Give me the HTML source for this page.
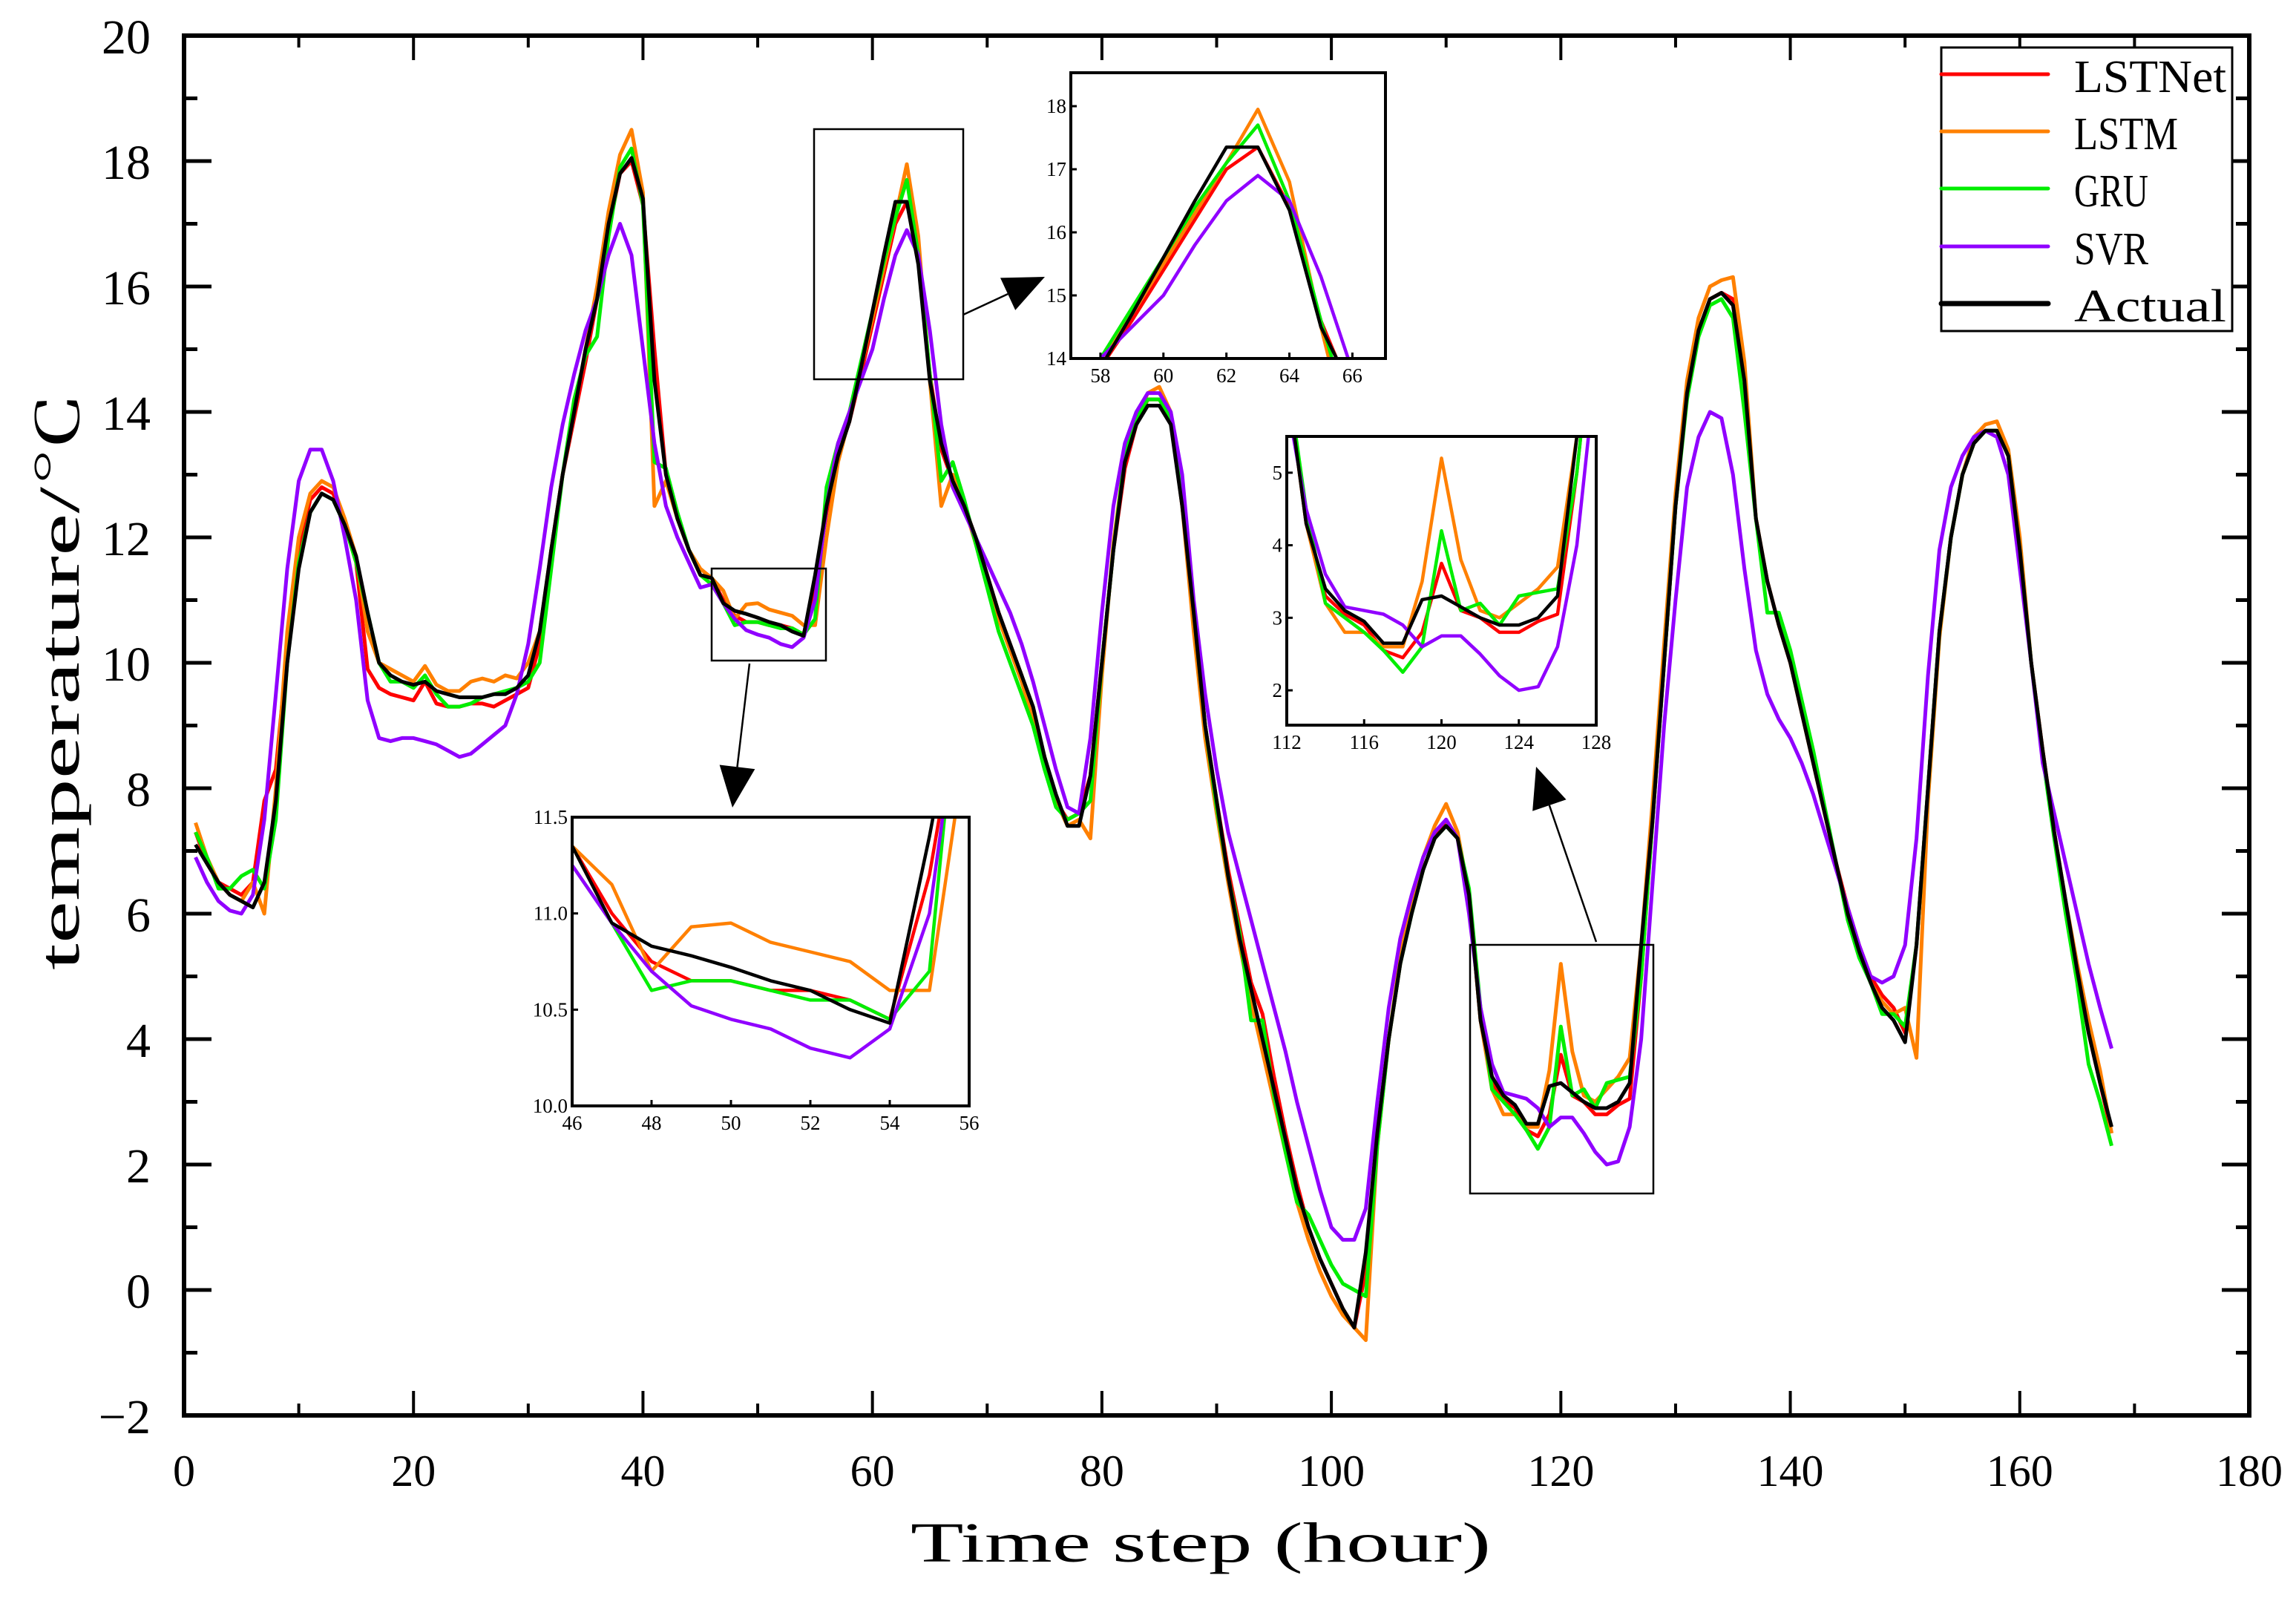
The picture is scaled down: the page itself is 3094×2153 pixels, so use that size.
<!DOCTYPE html>
<html><head><meta charset="utf-8"><style>
html,body{margin:0;padding:0;background:#fff;overflow:hidden;width:3094px;height:2153px;position:relative;}
svg{display:block;position:absolute;left:0;top:0;}
text{font-family:"Liberation Serif","Noto Serif CJK SC",serif;fill:#000;}
</style></head><body>
<svg id="chart" width="3094" height="2153" viewBox="0 0 3094 2153" xmlns="http://www.w3.org/2000/svg"></svg>
<script>
const hours = [];
for (let i = 1; i <= 168; i++) hours.push(i);
const seriesNames = ["LSTNet","LSTM","GRU","SVR","Actual"];
const seriesColors = ["#ff0000","#ff8000","#00ee00","#9000ff","#000000"];
const xTicks = [0,20,40,60,80,100,120,140,160,180];
const yTicks = [-2,0,2,4,6,8,10,12,14,16,18,20];
const lstnet = [7.3,6.8,6.5,6.4,6.3,6.5,7.8,8.3,10.2,11.8,12.6,12.8,12.7,12.2,11.6,9.9,9.6,9.5,9.45,9.4,9.7,9.35,9.3,9.3,9.35,9.35,9.3,9.4,9.5,9.6,10.3,11.8,13.0,13.9,14.8,15.8,16.9,17.8,18.0,17.3,15.0,13.0,12.3,11.8,11.4,11.35,11.0,10.75,10.65,10.65,10.6,10.6,10.55,10.45,11.2,12.4,13.3,13.85,14.6,15.4,16.2,17.0,17.35,16.4,14.6,13.4,12.9,12.5,12.0,11.4,10.8,10.3,9.8,9.2,8.5,7.8,7.5,7.6,8.2,10.0,11.8,13.1,13.8,14.2,14.2,13.9,12.5,10.8,9.0,7.8,6.7,5.8,4.9,4.4,3.4,2.5,1.7,1.0,0.5,0.1,-0.3,-0.6,0.3,2.5,4.0,5.2,6.1,6.7,7.2,7.5,7.2,6.3,4.3,3.3,3.05,2.9,2.55,2.45,2.8,3.75,3.1,3.0,2.8,2.8,2.95,3.05,5.0,7.5,10.0,12.5,14.3,15.3,15.8,15.9,15.8,14.5,12.3,11.3,10.6,10.0,9.2,8.4,7.6,6.8,6.1,5.5,5.0,4.7,4.5,4.1,5.5,8.0,10.5,12.0,13.0,13.5,13.7,13.7,13.3,11.8,10.0,8.6,7.3,6.2,5.1,4.1,3.3,2.5];
const lstm = [7.45,6.9,6.5,6.3,6.2,6.5,6.0,8.0,10.5,12.0,12.7,12.9,12.8,12.3,11.7,10.5,10.0,9.9,9.8,9.7,9.95,9.65,9.55,9.55,9.7,9.75,9.7,9.8,9.75,10.0,10.5,11.8,13.0,14.0,15.0,16.0,17.2,18.1,18.5,17.5,12.5,12.9,12.3,11.8,11.5,11.35,11.15,10.7,10.93,10.95,10.85,10.8,10.75,10.6,10.6,12.0,13.2,13.9,14.7,15.5,16.3,17.1,17.95,16.8,14.5,12.5,13.0,12.5,11.9,11.3,10.7,10.2,9.7,9.1,8.4,7.8,7.4,7.5,7.2,9.8,11.9,13.3,13.9,14.3,14.4,14.0,12.5,10.5,8.8,7.6,6.5,5.5,4.6,3.8,3.0,2.2,1.4,0.8,0.3,-0.1,-0.4,-0.6,-0.8,2.3,4.0,5.3,6.2,6.9,7.4,7.75,7.3,6.3,4.3,3.2,2.8,2.8,2.6,2.6,3.5,5.2,3.8,3.1,3.0,3.2,3.4,3.7,5.5,7.8,10.3,12.7,14.5,15.5,16.0,16.1,16.15,14.8,12.3,11.3,10.6,10.0,9.2,8.4,7.6,6.8,6.0,5.4,4.9,4.6,4.4,4.5,3.7,7.8,10.4,12.0,13.0,13.6,13.8,13.85,13.4,12.0,10.0,8.6,7.3,6.2,5.2,4.3,3.5,2.5];
const gru = [7.3,6.9,6.4,6.4,6.6,6.7,6.4,7.5,10.0,11.6,12.4,12.7,12.6,12.2,11.6,10.8,10.0,9.7,9.7,9.6,9.8,9.5,9.3,9.3,9.35,9.45,9.5,9.55,9.6,9.7,10.0,11.5,13.0,14.2,14.9,15.2,16.8,17.9,18.2,17.3,13.2,13.1,12.4,11.8,11.4,11.25,10.95,10.6,10.65,10.65,10.6,10.55,10.55,10.45,10.7,12.8,13.5,14.0,14.8,15.6,16.4,17.1,17.7,16.5,14.6,12.9,13.2,12.6,11.9,11.2,10.5,10.0,9.5,9.0,8.3,7.7,7.5,7.6,7.8,10.0,11.8,13.3,13.9,14.2,14.2,13.9,12.6,10.8,9.0,7.7,6.6,5.7,4.3,4.3,3.1,2.2,1.4,1.2,0.8,0.4,0.1,0.0,-0.1,2.3,4.0,5.2,6.0,6.7,7.2,7.4,7.2,6.4,4.5,3.2,3.0,2.8,2.55,2.25,2.6,4.2,3.1,3.2,2.9,3.3,3.35,3.4,5.0,7.5,10.0,12.5,14.2,15.2,15.7,15.8,15.5,14.0,12.3,10.8,10.8,10.2,9.4,8.6,7.7,6.8,5.9,5.3,4.9,4.4,4.4,4.2,5.5,8.0,10.5,12.0,13.0,13.5,13.7,13.7,13.3,11.8,10.0,8.5,7.2,6.0,4.9,3.6,3.0,2.3];
const svr = [6.9,6.5,6.2,6.05,6.0,6.3,7.5,9.5,11.5,12.9,13.4,13.4,12.9,12.0,11.0,9.4,8.8,8.75,8.8,8.8,8.75,8.7,8.6,8.5,8.55,8.7,8.85,9.0,9.5,10.3,11.5,12.8,13.8,14.6,15.3,15.8,16.5,17.0,16.5,15.0,13.5,12.5,12.0,11.6,11.2,11.25,10.95,10.7,10.52,10.45,10.4,10.3,10.25,10.4,11.0,12.5,13.5,14.0,14.5,15.0,15.8,16.5,16.9,16.5,15.3,13.8,12.8,12.4,12.0,11.6,11.2,10.8,10.3,9.7,9.0,8.3,7.7,7.6,8.8,10.8,12.5,13.5,14.0,14.3,14.3,14.0,13.0,11.0,9.5,8.3,7.3,6.6,5.9,5.2,4.5,3.8,3.0,2.3,1.6,1.0,0.8,0.8,1.3,3.0,4.5,5.6,6.3,6.9,7.3,7.5,7.2,6.0,4.5,3.6,3.15,3.1,3.05,2.9,2.6,2.75,2.75,2.5,2.2,2.0,2.05,2.6,4.0,6.5,9.0,11.0,12.8,13.6,14.0,13.9,13.0,11.5,10.2,9.5,9.1,8.8,8.4,7.9,7.3,6.7,6.1,5.5,5.0,4.9,5.0,5.5,7.2,9.8,11.8,12.8,13.3,13.6,13.7,13.6,13.0,11.5,10.0,8.4,7.6,6.8,6.0,5.2,4.5,3.85];
const actual = [7.1,6.8,6.5,6.3,6.2,6.1,6.5,7.8,10.0,11.5,12.4,12.7,12.6,12.2,11.7,10.8,10.0,9.8,9.7,9.65,9.7,9.55,9.5,9.45,9.45,9.45,9.5,9.5,9.6,9.8,10.5,11.8,13.0,14.0,15.0,15.8,17.0,17.8,18.05,17.4,14.5,13.0,12.3,11.8,11.4,11.35,10.95,10.83,10.78,10.72,10.65,10.6,10.5,10.43,11.4,12.5,13.3,13.85,14.7,15.6,16.5,17.35,17.35,16.35,14.5,13.5,12.9,12.5,12.0,11.4,10.8,10.3,9.8,9.3,8.5,7.9,7.4,7.4,8.2,10.0,11.8,13.2,13.8,14.1,14.1,13.8,12.5,10.8,9.0,7.8,6.6,5.6,4.8,4.0,3.2,2.4,1.6,1.0,0.5,0.1,-0.3,-0.6,0.6,2.5,4.0,5.2,6.0,6.7,7.2,7.4,7.2,6.3,4.3,3.4,3.1,2.95,2.65,2.65,3.25,3.3,3.15,3.0,2.9,2.9,3.0,3.3,5.5,7.5,10.0,12.5,14.3,15.3,15.8,15.9,15.7,14.5,12.3,11.3,10.6,10.0,9.2,8.4,7.6,6.8,6.0,5.4,4.9,4.5,4.3,3.95,5.5,8.0,10.5,12.0,13.0,13.5,13.7,13.7,13.3,11.8,10.0,8.6,7.3,6.2,5.1,4.1,3.3,2.6];
const allSeries = [lstnet, lstm, gru, svr, actual];

const NS = "http://www.w3.org/2000/svg";
const svg = document.getElementById('chart');
function mk(tag, attrs, parent){
  const e = document.createElementNS(NS, tag);
  for (const k in attrs) e.setAttribute(k, attrs[k]);
  (parent||svg).appendChild(e);
  return e;
}
const L=248,R=3031,T=48,B=1907;
const X0=0,X1=180,Y0=-2,Y1=20;
const xs = v => L + (v-X0)/(X1-X0)*(R-L);
const ys = v => B - (v-Y0)/(Y1-Y0)*(B-T);

const main = mk('g',{});


mk('defs',{}).innerHTML = '<clipPath id="mainclip"><rect x="'+L+'" y="'+T+'" width="'+(R-L)+'" height="'+(B-T)+'"/></clipPath>';
function drawSeries(parent, sx, sy, width, clipId, prefix){
  allSeries.forEach((arr, si) => {
    const pts = arr.map((v,i)=> sx(hours[i]).toFixed(1)+','+sy(v).toFixed(1)).join(' ');
    const pl = mk('polyline',{points:pts,fill:'none',stroke:seriesColors[si],'stroke-width':width,'stroke-linejoin':'round','clip-path':'url(#'+clipId+')'}, parent);
    
    
  });
}
drawSeries(main, xs, ys, 5, 'mainclip', 'series-');

const frame = mk('rect',{x:L,y:T,width:R-L,height:B-T,fill:'none',stroke:'#000','stroke-width':6});


for (let v=0; v<=180; v+=10){
  const major = v%20===0;
  const len = major?33:16;
  mk('line',{x1:xs(v),x2:xs(v),y1:B,y2:B-len,stroke:'#000','stroke-width':4});
  mk('line',{x1:xs(v),x2:xs(v),y1:T,y2:T+len,stroke:'#000','stroke-width':4});
}
xTicks.forEach(v=>{
  const t = mk('text',{x:xs(v),y:2002,'font-size':60,'text-anchor':'middle'});
  t.textContent = v;
  
  
});
for (let v=-2; v<=20; v+=1){
  const major = v%2===0;
  const len = major?37:18;
  mk('line',{x1:L,x2:L+len,y1:ys(v),y2:ys(v),stroke:'#000','stroke-width':5});
  mk('line',{x1:R,x2:R-len,y1:ys(v),y2:ys(v),stroke:'#000','stroke-width':5});
}
yTicks.forEach(v=>{
  const t = mk('text',{x:203,y:ys(v)+24,'font-size':66,'text-anchor':'end'});
  t.textContent = v<0 ? '\u2212'+(-v) : v;
  
  
});
const xt = mk('text',{x:1227,y:2104,'font-size':76,textLength:782,lengthAdjust:'spacingAndGlyphs'});
xt.textContent = 'Time step (hour)';


const yt = mk('text',{x:0,y:0,'font-size':78,textLength:780,lengthAdjust:'spacingAndGlyphs',transform:'translate(106,1307) rotate(-90)'});
yt.textContent = 'temperature/\u2103';



[[1097,174,1298,511,'zoom-box-peak'],[959,766,1113,890,'zoom-box-trough'],[1981,1273,2228,1608,'zoom-box-low']].forEach(r=>{
  const e = mk('rect',{x:r[0],y:r[1],width:r[2]-r[0],height:r[3]-r[1],fill:'none',stroke:'#000','stroke-width':2.5});
  
  
});
function arrow(x1,y1,x2,y2,name){
  const g = mk('g',{});
  
  
  const dx=x2-x1, dy=y2-y1, d=Math.hypot(dx,dy), ux=dx/d, uy=dy/d;
  const hl=55, hw=24;
  const bx=x2-ux*hl, by=y2-uy*hl;
  mk('line',{x1:x1,y1:y1,x2:bx,y2:by,stroke:'#000','stroke-width':2.5},g);
  mk('polygon',{points:`${x2},${y2} ${bx-uy*hw},${by+ux*hw} ${bx+uy*hw},${by-ux*hw}`,fill:'#000'},g);
}
arrow(1298,424,1408,373,'arrow-peak');
arrow(1010,894,987,1088,'arrow-trough');
arrow(2151,1269,2070,1033,'arrow-low');

function inset(box, dom, xt, yt, yfmt, id, name){
  const [x0,y0,x1,y1] = box;
  const [dx0,dx1,dy0,dy1] = dom;
  const sx = v => x0 + (v-dx0)/(dx1-dx0)*(x1-x0);
  const sy = v => y1 - (v-dy0)/(dy1-dy0)*(y1-y0);
  const g = mk('g',{});
  
  
  mk('rect',{x:x0,y:y0,width:x1-x0,height:y1-y0,fill:'#fff'},g);
  mk('defs',{},g).innerHTML = `<clipPath id="${id}"><rect x="${x0}" y="${y0}" width="${x1-x0}" height="${y1-y0}"/></clipPath>`;
  drawSeries(g, sx, sy, 4.5, id, name+'-');
  mk('rect',{x:x0,y:y0,width:x1-x0,height:y1-y0,fill:'none',stroke:'#000','stroke-width':4},g);
  xt.forEach(v=>{
    mk('line',{x1:sx(v),x2:sx(v),y1:y1,y2:y1-8,stroke:'#000','stroke-width':3},g);
    const t = mk('text',{x:sx(v),y:y1+32,'font-size':27,'text-anchor':'middle'},g);
    t.textContent = v;
  });
  yt.forEach(v=>{
    mk('line',{x1:x0,x2:x0+8,y1:sy(v),y2:sy(v),stroke:'#000','stroke-width':3},g);
    const t = mk('text',{x:x0-6,y:sy(v)+9,'font-size':27,'text-anchor':'end'},g);
    t.textContent = yfmt(v);
  });
}
inset([1443,98,1867,483],[57.06,67.05,14,18.53],[58,60,62,64,66],[14,15,16,17,18],v=>String(v),'clipA','inset-peak');
inset([771,1101,1306,1490],[46,56,10,11.5],[46,48,50,52,54,56],[10,10.5,11,11.5],v=>v.toFixed(1),'clipB','inset-trough');
inset([1734,588,2151,977],[112,128,1.52,5.5],[112,116,120,124,128],[2,3,4,5],v=>String(v),'clipC','inset-low');

const lg = mk('g',{});


mk('rect',{x:2616,y:64,width:392,height:382,fill:'#fff',stroke:'#000','stroke-width':3},lg);
const ly=[100,177,254,332,409];
const lw=[205,140,100,100,205];
seriesNames.forEach((n,i)=>{
  const e = mk('g',{},lg);
  
  
  mk('line',{x1:2616,x2:2760,y1:ly[i],y2:ly[i],stroke:seriesColors[i],'stroke-width':i===4?7:5,'stroke-linecap':'round'},e);
  const t = mk('text',{x:2795,y:ly[i]+24,'font-size':62,textLength:lw[i],lengthAdjust:'spacingAndGlyphs'},e);
  t.textContent = n;
});
</script>
</body></html>
